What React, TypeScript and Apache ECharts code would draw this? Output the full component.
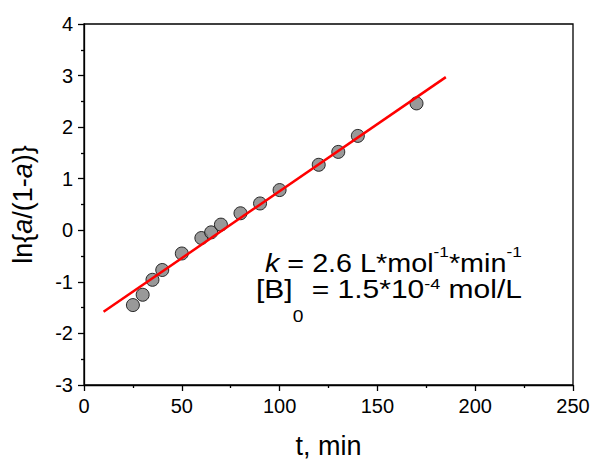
import React, { useEffect, useRef } from "react";
import * as echarts from "echarts";

const tValues = [25, 30, 35, 40, 50, 60, 65, 70, 80, 90, 100, 120, 130, 140, 170];
const lnValues = [-1.45, -1.25, -0.96, -0.77, -0.45, -0.15, -0.04, 0.11, 0.33, 0.52, 0.78, 1.27, 1.52, 1.83, 2.46];
const fitT = [10, 185];
const fitLn = [-1.58, 2.97];
const xTicks = { min: 0, max: 250, interval: 50 };
const yTicks = { min: -3, max: 4, interval: 1 };

const FONT = "'Liberation Sans', Arial, sans-serif";

export default function App() {
  const ref = useRef<HTMLDivElement>(null);
  useEffect(() => {
    document.body.style.margin = "0";
    if (!ref.current) return;
    const chart = echarts.init(ref.current, null, { renderer: "svg" });
    const points = tValues.map((t, i) => [t, lnValues[i]]);
    const fit = fitT.map((t, i) => [t, fitLn[i]]);
    const axisCommon = {
      axisLine: { show: true, onZero: false, lineStyle: { color: "#000", width: 1.3 } },
      axisTick: { show: true, inside: false, length: 6, lineStyle: { color: "#000", width: 1.3 } },
      minorTick: { show: true, splitNumber: 2, length: 3, lineStyle: { color: "#000", width: 1.3 } },
      splitLine: { show: false },
      axisLabel: { color: "#000", fontSize: 20, fontFamily: FONT, margin: 11 },
      nameLocation: "middle" as const,
      nameTextStyle: { color: "#000", fontSize: 27, fontFamily: FONT },
    };
    const mainTxt = { fontSize: 25, fontFamily: FONT, fill: "#000" };
    chart.setOption({
      animation: false,
      grid: {
        left: 84,
        right: 19,
        top: 24,
        bottom: 75,
        containLabel: false,
        outerBoundsMode: "none",
        show: true,
        borderColor: "#000",
        borderWidth: 1.3,
      },
      xAxis: {
        type: "value",
        ...axisCommon,
        min: xTicks.min,
        max: xTicks.max,
        interval: xTicks.interval,
        name: "t, min",
        nameGap: 47,
      },
      yAxis: {
        type: "value",
        ...axisCommon,
        min: yTicks.min,
        max: yTicks.max,
        interval: yTicks.interval,
        name: "ln{{i|a}/(1-{i|a})}",
        nameGap: 48,
        nameTextStyle: {
          color: "#000",
          fontSize: 27,
          fontFamily: FONT,
          rich: { i: { fontSize: 27, fontFamily: FONT, fontStyle: "italic", color: "#000" } },
        },
      },
      series: [
        {
          type: "scatter",
          data: points,
          symbol: "circle",
          symbolSize: 13,
          itemStyle: { color: "#808080", borderColor: "#000", borderWidth: 1 },
          z: 2,
        },
        {
          type: "line",
          data: fit,
          symbol: "none",
          lineStyle: { color: "#ff0000", width: 2.5 },
          z: 3,
        },
      ],
      graphic: [
        {
          type: "text",
          x: 265,
          y: 244,
          scaleX: 1.15,
          style: {
            text: "{k|k}{m| = 2.6 L*mol}{s|-1}{m|*min}{s|-1}",
            fill: "#000",
            rich: {
              k: { ...mainTxt, fontStyle: "italic", lineHeight: 40 },
              m: { ...mainTxt, lineHeight: 40 },
              s: { fontSize: 15, fontFamily: FONT, fill: "#000", lineHeight: 14, verticalAlign: "top" },
            },
          },
        },
        {
          type: "text",
          x: 256,
          y: 277,
          scaleX: 1.2,
          style: {
            text: "{m|[B]}{b|0}{m| = 1.5*10}{s|-4}{m| mol/L}",
            fill: "#000",
            rich: {
              m: { ...mainTxt, lineHeight: 40, verticalAlign: "top" },
              b: { fontSize: 16, fontFamily: FONT, fill: "#000", lineHeight: 80 },
              s: { fontSize: 15, fontFamily: FONT, fill: "#000", lineHeight: 23, verticalAlign: "top" },
            },
          },
        },
      ],
    });
    return () => chart.dispose();
  }, []);
  return <div ref={ref} style={{ width: 592, height: 460 }} />;
}
